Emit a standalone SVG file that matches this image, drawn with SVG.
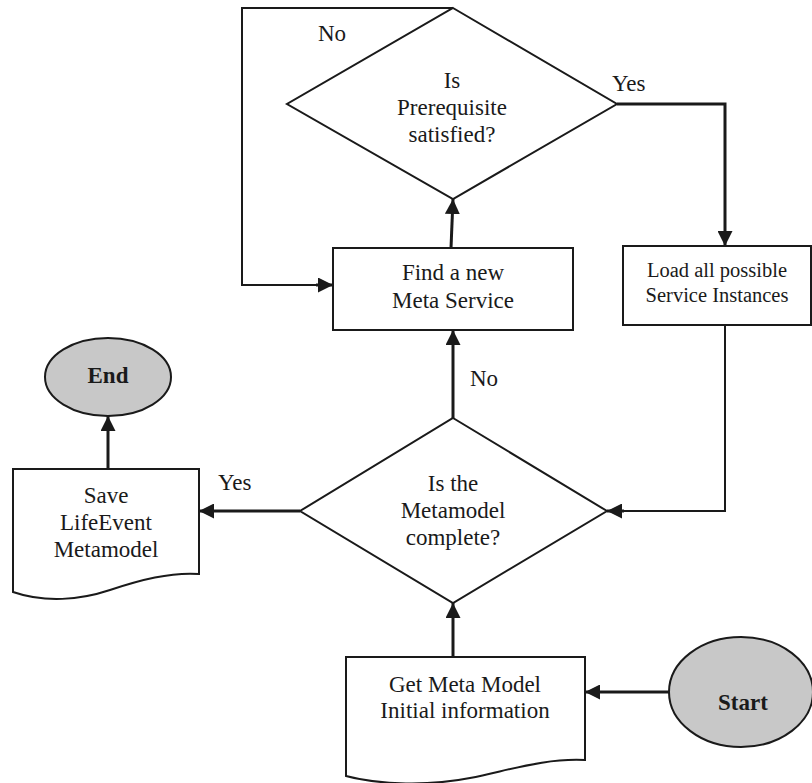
<svg xmlns="http://www.w3.org/2000/svg" width="812" height="783" viewBox="0 0 812 783">
  <style>
    .shape { fill: #ffffff; stroke: #1a1a1a; stroke-width: 2; }
    .term { fill: #c8c8c8; stroke: #1a1a1a; stroke-width: 2; }
    .conn { fill: none; stroke: #1a1a1a; stroke-width: 3; }
    .thin { fill: none; stroke: #1a1a1a; stroke-width: 2; }
    text { font-family: "Liberation Serif", "Times New Roman", serif; font-size: 23px; fill: #1a1a1a; text-anchor: middle; }
    .bold { font-weight: bold; }
    .small { font-size: 20.5px; }
    .lbl { text-anchor: start; }
  </style>
  <defs>
    <marker id="arrow" viewBox="0 0 15 15" refX="15" refY="7.5" markerWidth="15" markerHeight="15" markerUnits="userSpaceOnUse" orient="auto">
      <path d="M0,0 L15,7.5 L0,15 Z" fill="#1a1a1a"/>
    </marker>
  </defs>

  <g id="connectors">
    <!-- No loop: prerequisite check back to the finder -->
    <polyline class="thin" points="453,8 242,8 242,285 318,285" />
    <line class="conn" x1="316" y1="285" x2="333" y2="285" marker-end="url(#arrow)" />
    <!-- finder up to prerequisite check -->
    <line class="conn" x1="451" y1="248" x2="453" y2="199" marker-end="url(#arrow)" />
    <!-- Yes: prerequisite satisfied to loader -->
    <polyline class="conn" points="617,104 725,104 725,246" marker-end="url(#arrow)" />
    <!-- loader back to completeness check -->
    <polyline class="thin" points="725,325 725,511 622,511" />
    <line class="conn" x1="624" y1="511" x2="607" y2="511" marker-end="url(#arrow)" />
    <!-- No: completeness check to finder -->
    <line class="conn" x1="453" y1="418" x2="453" y2="330" marker-end="url(#arrow)" />
    <!-- Yes: completeness check to save -->
    <line class="conn" x1="300" y1="511" x2="199" y2="511" marker-end="url(#arrow)" />
    <!-- save to end -->
    <line class="conn" x1="108" y1="469" x2="108" y2="416" marker-end="url(#arrow)" />
    <!-- get info to completeness check -->
    <line class="conn" x1="453" y1="657" x2="453" y2="603" marker-end="url(#arrow)" />
    <!-- start to get info -->
    <line class="conn" x1="669" y1="692" x2="585" y2="692" marker-end="url(#arrow)" />
    <text class="lbl" x="318" y="41">No</text>
    <text class="lbl" x="612" y="91">Yes</text>
    <text class="lbl" x="470" y="386">No</text>
    <text class="lbl" x="218" y="490">Yes</text>
  </g>

  <g id="prereq">
    <polygon class="shape" points="453,8 617,104 453,199 287,104" />
    <text x="452" y="88">Is</text>
    <text x="452" y="115">Prerequisite</text>
    <text x="452" y="142">satisfied?</text>
  </g>

  <g id="find">
    <rect class="shape" x="333" y="248" width="240" height="82" />
    <text x="453" y="280">Find a new</text>
    <text x="453" y="308">Meta Service</text>
  </g>

  <g id="load">
    <rect class="shape" x="623" y="246" width="188" height="79" />
    <text class="small" x="717" y="277">Load all possible</text>
    <text class="small" x="717" y="302">Service Instances</text>
  </g>

  <g id="complete">
    <polygon class="shape" points="453,418 607,511 453,603 300,511" />
    <text x="453" y="491">Is the</text>
    <text x="453" y="518">Metamodel</text>
    <text x="453" y="545">complete?</text>
  </g>

  <g id="save">
    <path class="shape" d="M13,469 H199 V574 C170,572 140,580 110,590 C80,600 45,603 13,592 Z" />
    <text x="106" y="503">Save</text>
    <text x="106" y="530">LifeEvent</text>
    <text x="106" y="557">Metamodel</text>
  </g>

  <g id="end">
    <ellipse class="term" cx="108" cy="377" rx="63" ry="39" />
    <text class="bold" x="108" y="383">End</text>
  </g>

  <g id="getinfo">
    <path class="shape" d="M346,657 H585 V760 C545,758 510,770 470,778 C430,786 380,785 346,776 Z" />
    <text x="465" y="692">Get Meta Model</text>
    <text x="465" y="718">Initial information</text>
  </g>

  <g id="start">
    <ellipse class="term" cx="741" cy="692" rx="72" ry="55" />
    <text class="bold" x="743" y="710">Start</text>
  </g>
</svg>
